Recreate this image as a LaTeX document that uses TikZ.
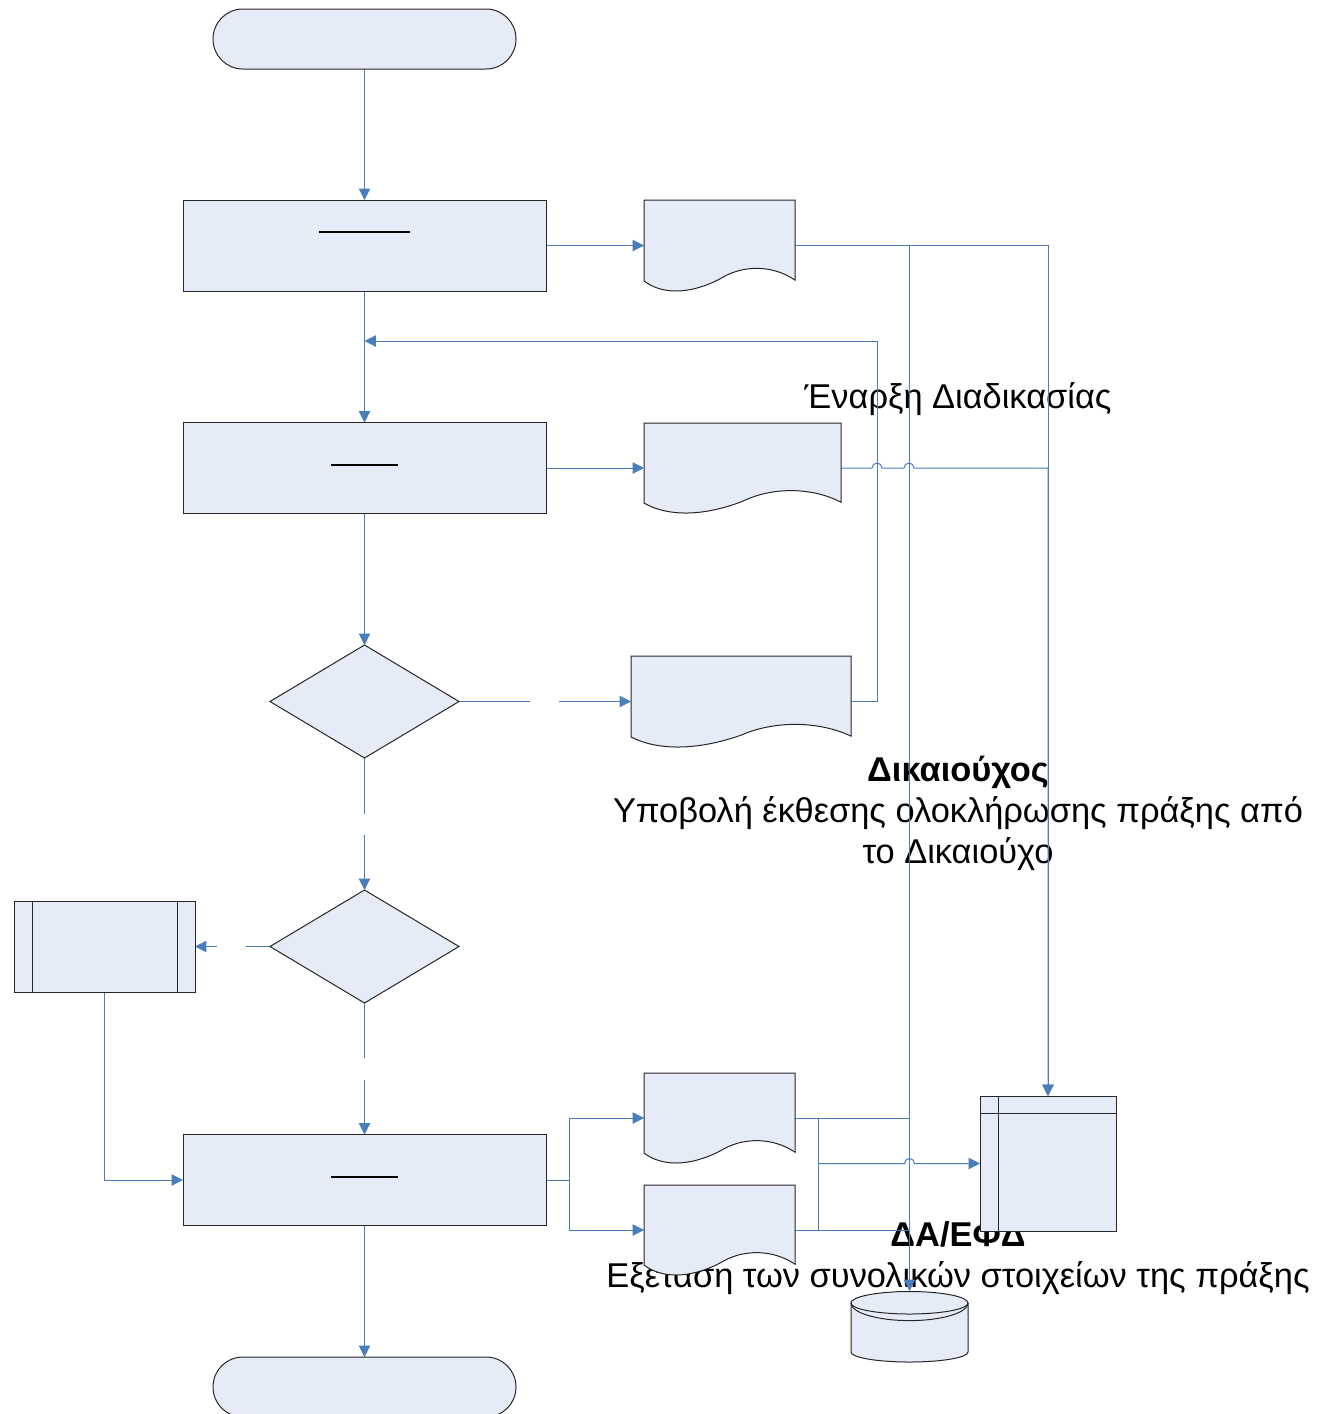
\documentclass[tikz,border=0pt]{standalone}
\usepackage{fontspec}
\setmainfont{Liberation Sans}
\usetikzlibrary{shapes.geometric,arrows.meta}
\pgfdeclarelayer{textlayer}
\pgfdeclarelayer{linelayer}
\pgfsetlayers{textlayer,linelayer,main}
\definecolor{shapefill}{HTML}{E6ECF7}
\definecolor{wire}{HTML}{4A7EBB}
\tikzset{
  x=0.75pt,y=-0.75pt,
  box/.style={draw=black!85,fill=shapefill,line width=0.75pt,inner sep=0pt,outer sep=0pt},
  term/.style={box,rectangle,rounded corners=22.4pt,minimum width=227.25pt,minimum height=45pt},
  stepbox/.style={box,rectangle,minimum width=272.25pt,minimum height=68.25pt},
  choice/.style={box,diamond,aspect=1.67,minimum width=141.75pt,minimum height=84.75pt},
  shapeline/.style={draw=black!85,fill=shapefill,line width=0.75pt},
  conn/.style={draw=wire,line width=0.75pt},
  arr/.style={conn,-{Triangle[length=8.5pt,width=8.5pt]}},
  bar/.style={draw=black,line width=1.1pt},
  lab/.style={font=\fontsize{25.8}{30.7}\selectfont,align=center,text=black,inner sep=0pt}
}
% name, centre x, centre y, width, height (px)
\newcommand{\docshape}[5]{%
  \node[rectangle,inner sep=0pt,outer sep=0pt,minimum width=#4*0.75pt,minimum height=#5*0.75pt] (#1) at (#2,#3) {};
  \begin{scope}[shift={(#1.south west)},x=#4*0.75pt,y=#5*0.75pt]
    \path[shapeline] (0,1) -- (1,1) -- (1,.12) .. controls (.85,.29) and (.65,.29) .. (.5,.13)
      .. controls (.3,-.04) and (.12,-.04) .. (0,.11) -- cycle;
  \end{scope}}
\begin{document}
\begin{tikzpicture}
\useasboundingbox (0,0) rectangle (1328,1414);

% shapes
\node[term] (start) at (364.5,39) {};
\node[stepbox] (r1) at (364.5,245.5) {};
\node[stepbox] (r2) at (364.5,468) {};
\node[stepbox] (r3) at (364.5,1180) {};
\node[term] (end) at (364.5,1387) {};
\node[choice] (d1) at (364.5,701.5) {};
\node[choice] (d2) at (364.5,946.5) {};
\docshape{doc1}{719.5}{245.5}{151}{91}
\docshape{doc2}{742.5}{468}{197}{90}
\docshape{doc3}{741}{701.5}{220}{91}
\docshape{doc4}{719.5}{1118}{151}{90}
\docshape{doc5}{719.5}{1230}{151}{90}

\node[box,rectangle,minimum width=135.75pt,minimum height=68.25pt] (pre) at (104.5,946.5) {};
\draw[shapeline] (32,901) -- (32,992) (177,901) -- (177,992);

\node[box,rectangle,minimum width=102pt,minimum height=101.25pt] (store) at (1048,1163.5) {};
\draw[shapeline] (998,1096) -- (998,1231) (980,1113) -- (1116,1113);

\node[rectangle,inner sep=0pt,outer sep=0pt,minimum width=87.75pt,minimum height=53.25pt] (db) at (909.5,1326.5) {};
\path[shapeline] (851,1303) -- (851,1352) arc[start angle=180,end angle=360,x radius=43.875pt,y radius=7.5pt]
  -- (968,1303) arc[start angle=0,end angle=180,x radius=43.875pt,y radius=8.625pt] -- cycle;
\draw[shapeline,fill=none] (851,1303) arc[start angle=180,end angle=360,x radius=43.875pt,y radius=8.25pt];
\draw[shapeline,fill=none] (851,1303) arc[start angle=180,end angle=360,x radius=43.875pt,y radius=13.2pt];

\draw[bar] (319,232) -- (410,232);
\draw[bar] (331,465) -- (398,465);
\draw[bar] (331,1177) -- (398,1177);

% free ends of connectors
\coordinate (retcorner) at (877,341);
\coordinate (retend) at (364.5,341);
\coordinate (g1a) at (530,701.5);
\coordinate (g1b) at (559,701.5);
\coordinate (g2a) at (364.5,814);
\coordinate (g2b) at (364.5,835);
\coordinate (g3a) at (246,946.5);
\coordinate (g3b) at (217,946.5);
\coordinate (g4a) at (364.5,1058);
\coordinate (g4b) at (364.5,1080);
\coordinate (fork) at (569,1180);
\coordinate (bus1) at (818,1118);
\coordinate (bus2) at (818,1163.5);
\coordinate (bus3) at (818,1230);
\coordinate (join1) at (909.5,1118);
\coordinate (join2) at (909.5,1230);

\begin{pgfonlayer}{linelayer}
\draw[arr] (start.south) -- (r1.north);
\draw[arr] (r1.south) -- (r2.north);
\draw[arr] (r2.south) -- (d1.north);
\draw[arr] (r3.south) -- (end.north);
\draw[arr] (r1.east) -- (doc1.west);
\draw[arr] (r2.east) -- (doc2.west);
\draw[conn] (d1.east) -- (g1a);
\draw[arr] (g1b) -- (doc3.west);
\draw[conn] (d1.south) -- (g2a);
\draw[arr] (g2b) -- (d2.north);
\draw[conn] (d2.west) -- (g3a);
\draw[arr] (g3b) -- (pre.east);
\draw[conn] (d2.south) -- (g4a);
\draw[arr] (g4b) -- (r3.north);
\draw[arr] (pre.south) |- (r3.west);
\draw[arr] (doc3.east) -| (retcorner) -- (retend);
\draw[arr] (doc1.east) -| (store.north);
\draw[arr] (doc1.east) -| (db.north);
\draw[arr] (doc2.east) -- ++(31,0) arc[start angle=180,end angle=0,radius=3.75pt]
  -- ++(22,0) arc[start angle=180,end angle=0,radius=3.75pt] -| (store.north);
\draw[conn] (r3.east) -- (fork);
\draw[arr] (fork) |- (doc4.west);
\draw[arr] (fork) |- (doc5.west);
\draw[conn] (doc4.east) -- (join1);
\draw[conn] (doc5.east) -- (join2);
\draw[conn] (bus1) -- (bus3);
\draw[arr] (bus2) -- ++(86.5,0) arc[start angle=180,end angle=0,radius=3.75pt] -- (store.west);
\end{pgfonlayer}

\begin{pgfonlayer}{textlayer}
\fill[white] (0,0) rectangle (1328,1414);
\node[lab] (t1) at (958,399) {Έναρξη Διαδικασίας};
\node[lab] (t2) at (958,813) {{\bfseries Δικαιούχος}\\Υποβολή έκθεσης ολοκλήρωσης πράξης από\\το Δικαιούχο};
\node[lab] (t3) at (958,1258) {{\bfseries ΔΑ/ΕΦΔ}\\Εξέταση των συνολικών στοιχείων της πράξης};
\end{pgfonlayer}
\end{tikzpicture}
\end{document}
